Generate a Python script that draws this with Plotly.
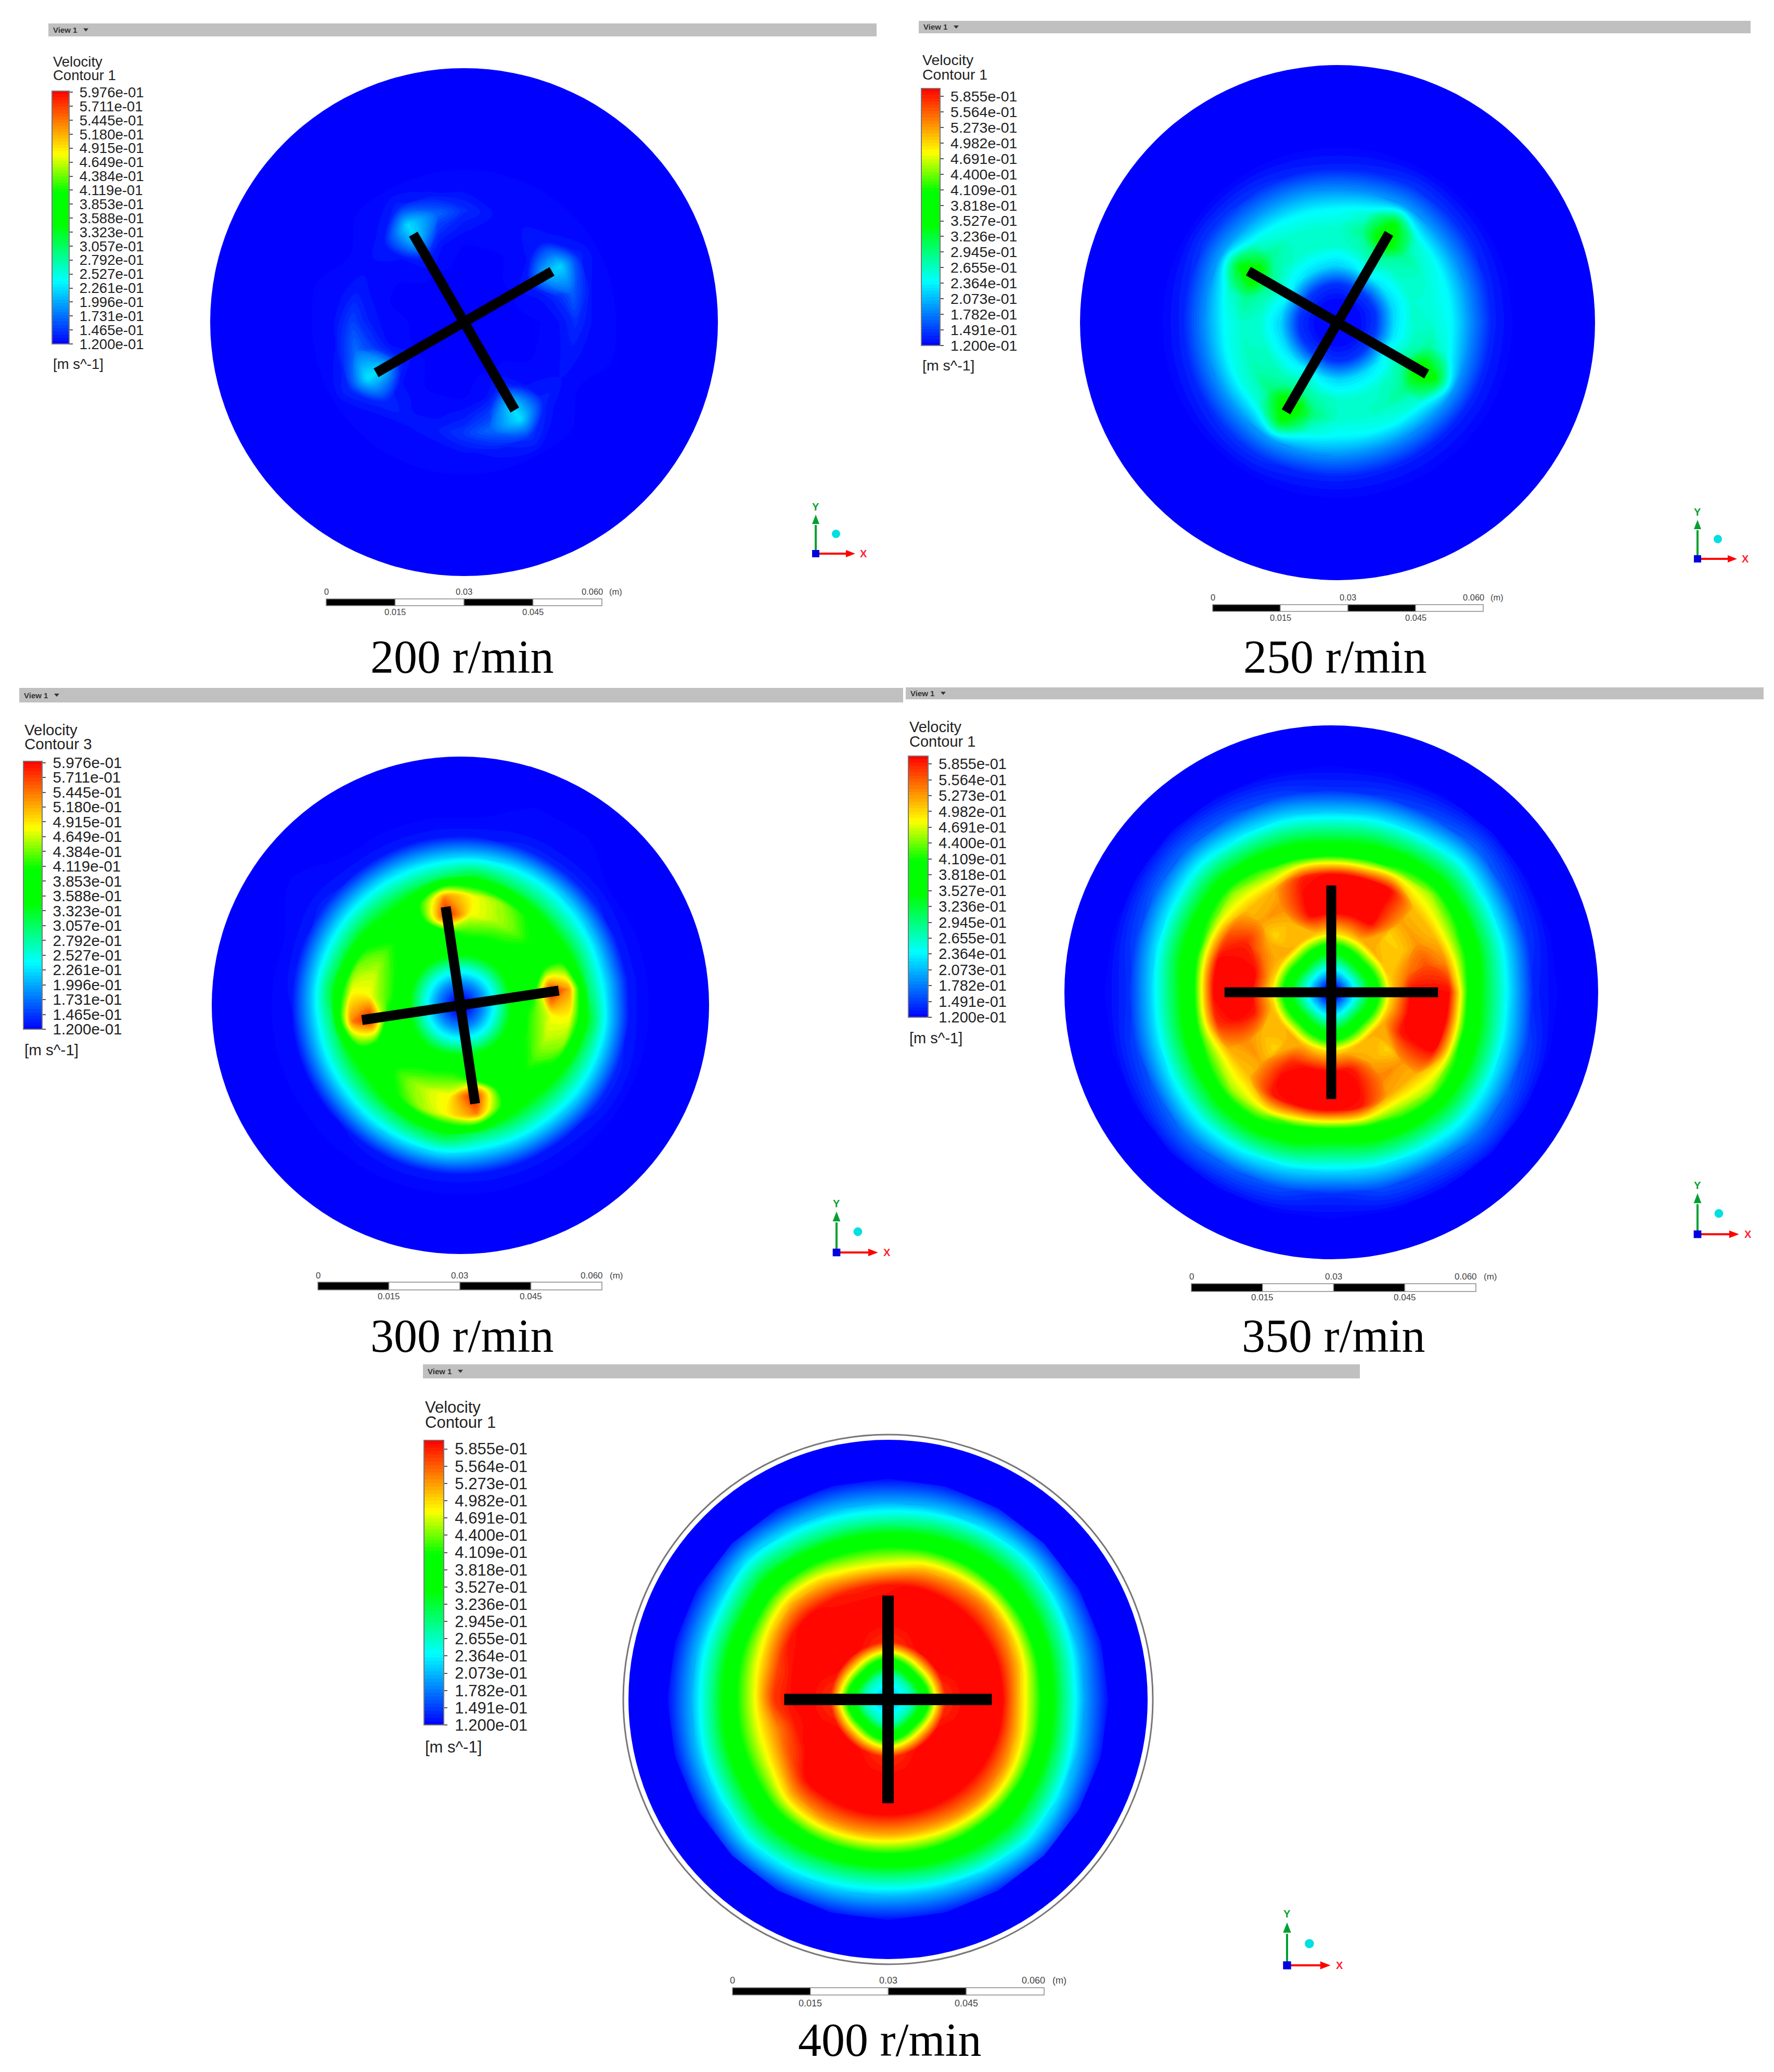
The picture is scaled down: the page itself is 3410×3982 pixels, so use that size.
import numpy as np
import plotly.graph_objects as go

W, H = 3410, 3982

# radial stations (fraction of the disk radius), values below in mm/s
radial_pos = [0.03, 0.09, 0.15, 0.22, 0.30, 0.37, 0.44, 0.52, 0.60, 0.68, 0.76, 0.85]

# first row sits at the angle in the panel's start_angle, then every 15 degrees
speed_200 = [
    [120, 120, 120, 120, 120, 125, 140, 122, 120, 120, 120, 120],
    [120, 120, 120, 120, 123, 135, 165, 126, 120, 120, 120, 120],
    [120, 120, 120, 120, 135, 210, 220, 135, 120, 120, 120, 120],
    [120, 120, 120, 120, 121, 128, 132, 122, 120, 120, 120, 120],
    [120, 120, 120, 120, 120, 122, 125, 121, 120, 120, 120, 120],
    [120, 120, 120, 120, 120, 122, 126, 121, 120, 120, 120, 120],
    [120, 120, 120, 120, 120, 128, 140, 124, 120, 120, 120, 120],
    [120, 120, 120, 120, 123, 140, 170, 127, 120, 120, 120, 120],
    [120, 120, 120, 120, 138, 215, 225, 135, 120, 120, 120, 120],
    [120, 120, 120, 120, 121, 128, 132, 122, 120, 120, 120, 120],
    [120, 120, 120, 120, 120, 121, 123, 120, 120, 120, 120, 120],
    [120, 120, 120, 120, 120, 125, 132, 121, 120, 120, 120, 120],
    [120, 120, 120, 120, 121, 132, 150, 123, 120, 120, 120, 120],
    [120, 120, 120, 120, 123, 145, 172, 127, 120, 120, 120, 120],
    [120, 120, 120, 120, 138, 220, 228, 140, 120, 120, 120, 120],
    [120, 120, 120, 120, 121, 130, 138, 123, 120, 120, 120, 120],
    [120, 120, 120, 120, 120, 124, 128, 122, 120, 120, 120, 120],
    [120, 120, 120, 120, 120, 124, 130, 122, 120, 120, 120, 120],
    [120, 120, 120, 120, 120, 130, 145, 124, 120, 120, 120, 120],
    [120, 120, 120, 120, 123, 145, 170, 130, 120, 120, 120, 120],
    [120, 120, 120, 120, 138, 220, 228, 142, 120, 120, 120, 120],
    [120, 120, 120, 120, 121, 128, 135, 122, 120, 120, 120, 120],
    [120, 120, 120, 120, 120, 123, 126, 120, 120, 120, 120, 120],
    [120, 120, 120, 120, 120, 124, 130, 121, 120, 120, 120, 120],
]

speed_250 = [
    [121, 125, 145, 225, 262, 258, 240, 185, 135, 120, 120, 120],
    [121, 125, 143, 222, 258, 255, 240, 185, 136, 120, 120, 120],
    [121, 125, 145, 225, 262, 262, 245, 188, 140, 120, 120, 120],
    [121, 125, 147, 230, 268, 285, 255, 190, 142, 120, 120, 120],
    [122, 128, 150, 240, 285, 378, 350, 195, 145, 120, 120, 120],
    [121, 125, 146, 228, 268, 285, 255, 188, 138, 120, 120, 120],
    [121, 125, 143, 220, 258, 258, 240, 185, 135, 120, 120, 120],
    [121, 125, 143, 222, 260, 260, 240, 188, 137, 120, 120, 120],
    [121, 125, 145, 225, 262, 262, 243, 190, 142, 120, 120, 120],
    [121, 125, 147, 230, 268, 285, 255, 192, 145, 120, 120, 120],
    [122, 128, 150, 240, 285, 378, 340, 198, 146, 120, 120, 120],
    [121, 125, 146, 228, 268, 285, 255, 188, 138, 120, 120, 120],
    [121, 125, 143, 220, 258, 262, 240, 185, 135, 120, 120, 120],
    [121, 125, 143, 222, 262, 265, 243, 185, 136, 120, 120, 120],
    [121, 125, 145, 225, 268, 272, 248, 188, 138, 120, 120, 120],
    [121, 125, 147, 230, 272, 295, 255, 190, 142, 120, 120, 120],
    [122, 128, 150, 240, 288, 385, 345, 195, 142, 120, 120, 120],
    [121, 125, 146, 228, 272, 295, 255, 188, 136, 120, 120, 120],
    [121, 125, 143, 220, 262, 262, 240, 185, 135, 120, 120, 120],
    [121, 125, 143, 222, 260, 262, 243, 183, 134, 120, 120, 120],
    [121, 125, 145, 225, 262, 268, 248, 185, 134, 120, 120, 120],
    [121, 125, 147, 230, 268, 288, 255, 188, 134, 120, 120, 120],
    [122, 128, 150, 240, 285, 378, 342, 192, 135, 120, 120, 120],
    [121, 125, 146, 228, 265, 280, 250, 185, 134, 120, 120, 120],
]

speed_300 = [
    [125, 190, 265, 370, 410, 590, 530, 300, 215, 130, 120, 120],
    [125, 185, 260, 365, 395, 410, 405, 300, 215, 130, 120, 120],
    [125, 185, 258, 360, 385, 395, 390, 295, 220, 135, 120, 120],
    [125, 185, 258, 360, 405, 435, 410, 300, 225, 135, 121, 120],
    [125, 185, 260, 365, 415, 460, 450, 310, 225, 135, 121, 120],
    [125, 185, 260, 370, 425, 480, 480, 330, 220, 130, 120, 120],
    [125, 190, 265, 370, 410, 590, 535, 305, 215, 130, 120, 120],
    [125, 185, 260, 365, 385, 400, 395, 295, 215, 130, 120, 120],
    [125, 185, 258, 360, 375, 385, 370, 295, 215, 130, 120, 120],
    [125, 185, 258, 360, 400, 425, 395, 300, 215, 135, 121, 120],
    [125, 185, 260, 365, 420, 460, 440, 305, 215, 130, 120, 120],
    [125, 185, 260, 370, 430, 480, 480, 325, 215, 128, 120, 120],
    [125, 190, 265, 370, 410, 590, 540, 300, 210, 125, 120, 120],
    [125, 185, 260, 365, 390, 410, 395, 295, 210, 125, 120, 120],
    [125, 185, 258, 360, 380, 390, 375, 295, 210, 125, 120, 120],
    [125, 185, 258, 360, 405, 435, 405, 300, 215, 128, 120, 120],
    [125, 185, 260, 370, 420, 465, 450, 315, 220, 130, 120, 120],
    [125, 185, 260, 375, 430, 485, 485, 335, 225, 130, 120, 120],
    [125, 190, 265, 370, 410, 590, 540, 305, 215, 130, 120, 120],
    [125, 185, 260, 365, 390, 410, 395, 300, 215, 130, 120, 120],
    [125, 185, 258, 360, 380, 390, 375, 295, 215, 130, 120, 120],
    [125, 185, 258, 360, 400, 425, 395, 300, 220, 135, 120, 120],
    [125, 185, 260, 365, 420, 460, 445, 310, 220, 135, 120, 120],
    [125, 185, 260, 370, 430, 480, 480, 330, 220, 130, 120, 120],
]

speed_350 = [
    [135, 240, 345, 490, 600, 600, 600, 385, 300, 215, 135, 120],
    [135, 245, 355, 500, 545, 565, 535, 410, 310, 222, 145, 120],
    [135, 250, 370, 510, 505, 530, 510, 430, 320, 230, 155, 122],
    [135, 255, 380, 520, 500, 525, 510, 455, 335, 245, 170, 125],
    [135, 250, 370, 510, 600, 600, 600, 430, 320, 230, 155, 122],
    [135, 245, 355, 500, 600, 600, 600, 395, 310, 222, 145, 120],
    [135, 240, 345, 490, 600, 600, 600, 385, 300, 212, 140, 120],
    [135, 245, 355, 500, 600, 600, 585, 400, 310, 222, 150, 120],
    [135, 250, 370, 510, 515, 535, 515, 425, 320, 230, 160, 122],
    [135, 255, 380, 520, 500, 525, 510, 450, 335, 245, 170, 125],
    [135, 250, 370, 510, 545, 585, 560, 430, 325, 235, 165, 122],
    [135, 245, 355, 500, 600, 600, 600, 410, 320, 225, 150, 120],
    [135, 240, 345, 490, 600, 600, 600, 390, 305, 215, 140, 120],
    [135, 245, 355, 500, 590, 600, 580, 405, 310, 222, 150, 120],
    [135, 250, 370, 510, 515, 535, 515, 425, 320, 235, 160, 122],
    [135, 255, 380, 520, 500, 525, 510, 455, 335, 245, 175, 125],
    [135, 250, 370, 510, 580, 600, 590, 450, 335, 240, 165, 122],
    [135, 245, 355, 500, 600, 600, 600, 410, 320, 225, 155, 120],
    [135, 240, 345, 490, 600, 600, 600, 385, 300, 215, 140, 120],
    [135, 245, 355, 500, 590, 600, 590, 410, 315, 225, 155, 120],
    [135, 250, 370, 510, 520, 540, 520, 435, 325, 235, 160, 122],
    [135, 255, 380, 520, 500, 530, 515, 455, 335, 245, 175, 125],
    [135, 250, 370, 510, 590, 600, 595, 430, 325, 235, 165, 122],
    [135, 245, 355, 500, 600, 600, 600, 400, 310, 222, 150, 120],
]

speed_400 = [
    [215, 265, 385, 575, 600, 600, 600, 490, 395, 290, 195, 125],
    [215, 270, 400, 585, 600, 600, 600, 510, 400, 300, 205, 128],
    [215, 275, 415, 595, 600, 600, 600, 525, 410, 315, 220, 132],
    [215, 280, 425, 600, 600, 600, 600, 535, 415, 325, 235, 140],
    [215, 275, 415, 595, 600, 600, 600, 525, 410, 320, 225, 135],
    [215, 270, 400, 585, 600, 600, 600, 510, 400, 305, 210, 130],
    [215, 265, 385, 575, 600, 600, 590, 480, 395, 290, 200, 125],
    [215, 270, 400, 585, 600, 600, 585, 480, 395, 290, 205, 128],
    [215, 275, 415, 595, 600, 600, 590, 505, 405, 300, 215, 130],
    [215, 280, 425, 600, 600, 600, 600, 520, 415, 320, 230, 138],
    [215, 275, 415, 595, 600, 600, 590, 500, 400, 300, 210, 130],
    [215, 270, 400, 585, 600, 600, 570, 480, 395, 295, 205, 125],
    [215, 265, 385, 575, 600, 595, 575, 470, 390, 290, 200, 125],
    [215, 270, 400, 585, 600, 590, 540, 470, 395, 300, 210, 128],
    [215, 275, 415, 595, 600, 595, 560, 480, 400, 310, 220, 130],
    [215, 280, 425, 600, 600, 600, 600, 520, 415, 325, 240, 145],
    [215, 275, 415, 595, 600, 600, 600, 530, 415, 315, 230, 138],
    [215, 270, 400, 585, 600, 600, 600, 525, 405, 300, 215, 130],
    [215, 265, 385, 575, 600, 600, 600, 520, 400, 295, 205, 125],
    [215, 270, 400, 585, 600, 600, 600, 520, 405, 305, 210, 130],
    [215, 275, 415, 595, 600, 600, 600, 530, 410, 320, 225, 135],
    [215, 280, 425, 600, 600, 600, 600, 535, 415, 330, 240, 145],
    [215, 275, 415, 595, 600, 600, 600, 525, 410, 315, 225, 135],
    [215, 270, 400, 585, 600, 600, 600, 505, 400, 300, 205, 128],
]

legend_short = ['5.976e-01', '5.711e-01', '5.445e-01', '5.180e-01', '4.915e-01', '4.649e-01', '4.384e-01',
                '4.119e-01', '3.853e-01', '3.588e-01', '3.323e-01', '3.057e-01', '2.792e-01', '2.527e-01',
                '2.261e-01', '1.996e-01', '1.731e-01', '1.465e-01', '1.200e-01']
legend_long = ['5.855e-01', '5.564e-01', '5.273e-01', '4.982e-01', '4.691e-01', '4.400e-01', '4.109e-01',
               '3.818e-01', '3.527e-01', '3.236e-01', '2.945e-01', '2.655e-01', '2.364e-01', '2.073e-01',
               '1.782e-01', '1.491e-01', '1.200e-01']
scale_ticks = ['0', '0.015', '0.03', '0.045', '0.060']

rainbow = [[0, '#0000ff'], [0.25, '#00ffff'], [0.47, '#00ff00'], [0.60, '#00ff00'],
           [0.75, '#ffff00'], [1, '#ff0000']]

# pixel layout of each screenshot in the composite
panels = [
    dict(title='200 r/min', contour='Contour 1', speed=speed_200, labels=legend_short, start_angle=0, blade=30,
         cx=892, cy=619, R=488, blade_w=19, title_xy=(888, 1262),
         bar=(93, 1685, 45, 70), text_x=100, text_y=(119, 145, 700), text_size=27.5,
         cbar=(100, 133, 175, 661),
         scale=(627, 1157, 1151, 1164, 1137, 1176), scale_size=16.5, triad=(1568, 1064, 1.0)),
    dict(title='250 r/min', contour='Contour 1', speed=speed_250, labels=legend_long, start_angle=0, blade=60,
         cx=2571, cy=620, R=495, blade_w=19, title_xy=(2566, 1262),
         bar=(1766, 3365, 40, 64), text_x=1771, text_y=(115, 143, 702), text_size=28.5,
         cbar=(1771, 1807, 170, 664),
         scale=(2331, 2851, 1162, 1175, 1148, 1187), scale_size=16.5, triad=(3263, 1074, 1.0)),
    dict(title='300 r/min', contour='Contour 3', speed=speed_300, labels=legend_short, start_angle=8.5, blade=8.5,
         cx=885, cy=1932, R=478, blade_w=19, title_xy=(888, 2567),
         bar=(37, 1736, 1322, 1350), text_x=45, text_y=(1402, 1429, 2018), text_size=29.5,
         cbar=(45, 81, 1463, 1978),
         scale=(611, 1157, 2464, 2479, 2451, 2491), scale_size=17, triad=(1608, 2407, 1.05)),
    dict(title='350 r/min', contour='Contour 1', speed=speed_350, labels=legend_long, start_angle=0, blade=0,
         cx=2559, cy=1907, R=513, blade_w=19, title_xy=(2563, 2567),
         bar=(1741, 3390, 1321, 1344), text_x=1746, text_y=(1397, 1425, 1995), text_size=29,
         cbar=(1746, 1784, 1453, 1955),
         scale=(2290, 2837, 2467, 2482, 2453, 2493), scale_size=17, triad=(3263, 2372, 1.05)),
    dict(title='400 r/min', contour='Contour 1', speed=speed_400, labels=legend_long, start_angle=0, blade=0,
         cx=1707, cy=3266, R=499, blade_w=22, title_xy=(1711, 3920),
         bar=(813, 2614, 2622, 2649), text_x=815, text_y=(2704, 2733, 3357), text_size=31,
         cbar=(815, 853, 2768, 3315),
         scale=(1408, 2007, 3820, 3834, 3806, 3850), scale_size=18, triad=(2474, 3777, 1.1), ring=509),
]

DISK_M = 0.055
BLADE_FRAC = 0.40
VMIN, VMAX = 0.12, 0.60


def px(x):
    return x / W


def py(y):
    return 1 - y / H


fig = go.Figure()
shapes = []
notes = []


def rect(x0, x1, y0, y1, fill, line=None, lw=0):
    shapes.append(dict(type='rect', xref='paper', yref='paper', x0=px(x0), x1=px(x1), y0=py(y0), y1=py(y1),
                       fillcolor=fill, line=dict(color=line or fill, width=lw)))


def text(x, y, s, size, color='#222222', family='Liberation Sans', anchor='left'):
    notes.append(dict(xref='paper', yref='paper', x=px(x), y=py(y), text=s, showarrow=False,
                      xanchor=anchor, yanchor='middle', align=anchor,
                      font=dict(size=size, color=color, family=family)))


def poly(points, color):
    path = 'M ' + ' L '.join(f'{px(a):.6f} {py(b):.6f}' for a, b in points) + ' Z'
    shapes.append(dict(type='path', xref='paper', yref='paper', path=path, fillcolor=color,
                       line=dict(color=color, width=0)))


for n, p in enumerate(panels, start=1):
    xa, ya = f'x{n}', f'y{n}'
    half = 1.12 * p['R']
    span = 1.12 * DISK_M
    fig.update_layout({
        f'xaxis{n}': dict(domain=[px(p['cx'] - half), px(p['cx'] + half)], range=[-span, span], visible=False,
                          anchor=ya),
        f'yaxis{n}': dict(domain=[py(p['cy'] + half), py(p['cy'] - half)], range=[-span, span], visible=False,
                          anchor=xa),
    })

    # blue disk under the contour field
    shapes.append(dict(type='circle', xref=xa, yref=ya, x0=-DISK_M, x1=DISK_M, y0=-DISK_M, y1=DISK_M,
                       fillcolor='#0000ff', line=dict(width=0), layer='below'))
    if 'ring' in p:
        ring = DISK_M * p['ring'] / p['R']
        shapes.append(dict(type='circle', xref=xa, yref=ya, x0=-ring, x1=ring, y0=-ring, y1=ring,
                           line=dict(color='#777777', width=3), layer='below'))

    # contour field on a polar carpet, first row repeated to close the circle
    radii = DISK_M * np.array(radial_pos)
    angles = p['start_angle'] + 15.0 * np.arange(len(p['speed']) + 1)
    field = np.array(p['speed'] + [p['speed'][0]]) / 1000.0
    rr, tt = np.meshgrid(radii, np.radians(angles))
    carpet_id = f'disk{n}'
    fig.add_trace(go.Carpet(carpet=carpet_id, a=radii, b=angles, x=rr * np.cos(tt), y=rr * np.sin(tt),
                            xaxis=xa, yaxis=ya,
                            aaxis=dict(smoothing=0, showgrid=False, showline=False, showticklabels='none',
                                       startline=False, endline=False, minorgridcount=0),
                            baxis=dict(smoothing=0, showgrid=False, showline=False, showticklabels='none',
                                       startline=False, endline=False, minorgridcount=0)))

    bx0, bx1, by0, by1 = p['cbar']
    tick_vals = [float(s) for s in p['labels']]
    fig.add_trace(go.Contourcarpet(
        carpet=carpet_id, a=radii, b=angles, z=field, xaxis=xa, yaxis=ya,
        autocontour=False,
        contours=dict(start=VMIN, end=VMAX, size=0.006, coloring='fill', showlines=False),
        line=dict(width=0),
        colorscale=rainbow, zmin=VMIN, zmax=VMAX,
        colorbar=dict(x=px(bx0), xanchor='left', xpad=0, y=py(by1), yanchor='bottom', ypad=0,
                      len=(by1 - by0) / H, lenmode='fraction', thickness=bx1 - bx0, thicknessmode='pixels',
                      tickmode='array', tickvals=tick_vals, ticktext=['\u00a0' + s for s in p['labels']],
                      ticks='outside', ticklen=6, tickwidth=2, tickcolor='#555555',
                      outlinecolor='#777777', outlinewidth=2,
                      tickfont=dict(size=p['text_size'], color='#222222', family='Liberation Sans')),
    ))

    # impeller cross
    for k in (0, 1):
        a = np.radians(p['blade'] + 90 * k)
        tip = BLADE_FRAC * DISK_M
        fig.add_trace(go.Scatter(x=[tip * np.cos(a), -tip * np.cos(a)], y=[tip * np.sin(a), -tip * np.sin(a)],
                                 mode='lines', line=dict(color='#000000', width=p['blade_w']),
                                 xaxis=xa, yaxis=ya, showlegend=False, hoverinfo='skip'))

    # toolbar strip
    x0, x1, y0, y1 = p['bar']
    rect(x0, x1, y0, y1, '#c0c0c0')
    text(x0 + 7, (y0 + y1) / 2, '<b>View 1</b>', 15, color='#333333', family='Liberation Sans')
    ym = (y0 + y1) / 2
    poly([(x0 + 67, ym - 3), (x0 + 77, ym - 3), (x0 + 72, ym + 3)], '#333333')

    # legend captions
    ty = p['text_y']
    text(p['text_x'], ty[0], 'Velocity', p['text_size'])
    text(p['text_x'], ty[1], p['contour'], p['text_size'])
    text(p['text_x'], ty[2], '[m s^-1]', p['text_size'])

    # scale bar
    sx0, sx1, sy0, sy1, lab_up, lab_dn = p['scale']
    seg = (sx1 - sx0) / 4
    for i in range(4):
        rect(sx0 + i * seg, sx0 + (i + 1) * seg, sy0, sy1, '#000000' if i % 2 == 0 else '#ffffff', '#888888', 1.5)
    ss = p['scale_size']
    text(sx0, lab_up, scale_ticks[0], ss, '#444444', anchor='center')
    text(sx0 + 2 * seg, lab_up, scale_ticks[2], ss, '#444444', anchor='center')
    text(sx1 - 0.035 * (sx1 - sx0), lab_up, scale_ticks[4], ss, '#444444', anchor='center')
    text(sx1 + 0.05 * (sx1 - sx0), lab_up, '(m)', ss, '#444444', anchor='center')
    text(sx0 + seg, lab_dn, scale_ticks[1], ss, '#444444', anchor='center')
    text(sx0 + 3 * seg, lab_dn, scale_ticks[3], ss, '#444444', anchor='center')

    # axis triad
    ox, oy, k = p['triad']
    for pts, col in (((ox, oy, ox, oy - 55 * k), '#00a030'), ((ox, oy, ox + 58 * k, oy), '#ff0000')):
        shapes.append(dict(type='line', xref='paper', yref='paper', x0=px(pts[0]), y0=py(pts[1]),
                           x1=px(pts[2]), y1=py(pts[3]), line=dict(color=col, width=4)))
    poly([(ox, oy - 75 * k), (ox - 7 * k, oy - 57 * k), (ox + 7 * k, oy - 57 * k)], '#00a030')
    poly([(ox + 76 * k, oy), (ox + 58 * k, oy - 7 * k), (ox + 58 * k, oy + 7 * k)], '#ff0000')
    rect(ox - 7 * k, ox + 7 * k, oy - 7 * k, oy + 7 * k, '#0000e0')
    shapes.append(dict(type='circle', xref='paper', yref='paper', x0=px(ox + 31 * k), x1=px(ox + 47 * k),
                       y0=py(oy - 30 * k), y1=py(oy - 46 * k), fillcolor='#00e0e0', line=dict(width=0)))
    text(ox, oy - 90 * k, '<b>Y</b>', 20, '#00a030', anchor='center')
    text(ox + 92 * k, oy, '<b>X</b>', 20, '#ff2030', anchor='center')

    # speed caption
    text(p['title_xy'][0], p['title_xy'][1], p['title'], 90, '#000000', 'Liberation Serif', anchor='center')

fig.update_layout(
    width=W, height=H,
    margin=dict(l=0, r=0, t=0, b=0),
    paper_bgcolor='#ffffff',
    plot_bgcolor='rgba(0,0,0,0)',
    showlegend=False,
    shapes=shapes,
    annotations=notes,
)

# page body margin would push the composite off its pixel grid
fig.write_html("out.html", config={'displayModeBar': False}, post_script="document.body.style.margin='0';")
